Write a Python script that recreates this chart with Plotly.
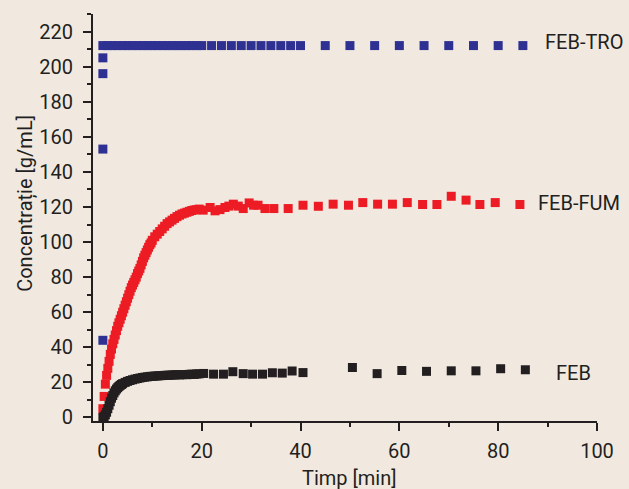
import plotly.graph_objects as go

# ---------------- data ----------------
# FEB-TRO (blue)
tro_t = [0, 0, 0, 0, 0, 1, 2, 3, 4, 5, 6, 7, 8, 9, 10, 11, 12, 13, 14, 15, 16, 17, 18, 19, 20,
         22, 24, 26, 28, 30, 32, 34, 36, 38, 40,
         45, 50, 55, 60, 65, 70, 75, 80, 85]
tro_c = [44, 153, 196, 205, 212, 212, 212, 212, 212, 212, 212, 212, 212, 212, 212, 212, 212, 212, 212, 212, 212, 212, 212, 212, 212,
         212, 212, 212, 212, 212, 212, 212, 212, 212, 212,
         212, 212, 212, 212, 212, 212, 212, 212, 212]

# FEB-FUM (red)
fum_t = [0, 0.25, 0.5, 0.75, 1.0, 1.25, 1.5, 1.75, 2.0, 2.25, 2.5, 2.75, 3.0, 3.25, 3.5, 3.75,
         4.0, 4.25, 4.5, 4.75, 5.0, 5.25, 5.5, 5.75, 6.0, 6.25, 6.5, 6.75, 7.0, 7.25, 7.5, 7.75,
         8.0, 8.25, 8.5, 8.75, 9.0, 9.25, 9.5, 9.75, 10, 10.5, 11, 11.5, 12, 12.5, 13, 13.5,
         14, 14.5, 15, 15.5, 16, 16.5, 17, 17.5, 18, 18.5, 19, 19.5, 20.3, 21.7, 22.7, 23.7,
         24.7, 25.5, 26.4, 27.4, 28.4, 29.6, 30.5, 31.4, 32.8, 34.6, 37.5, 40.5, 43.6, 46.6,
         49.7, 52.6, 55.6, 58.6, 61.6, 64.7, 67.6, 70.5, 73.5, 76.3, 79.4, 84.4]
fum_c = [5, 12, 19, 24, 28, 32, 36, 39, 42, 44.5, 47, 49.5, 52, 54, 56, 58,
         60, 62, 64, 66, 68, 70, 72, 74, 75.5, 77, 78.5, 80, 82, 83.5, 85, 87,
         89, 91, 92.5, 94, 95.5, 97, 98.5, 99.5, 101, 103, 104.5, 106, 107.5, 109, 110.5, 111.5,
         112.5, 113.5, 114.5, 115.3, 116, 116.5, 117, 117.5, 118, 118.3, 118.5, 118.8, 118.2, 119.7, 117.8, 118.5,
         119.7, 120.5, 121.6, 120.5, 119.1, 122.3, 121, 121, 119.1, 119.1, 119.1, 121, 120.4, 121.6,
         121, 122.5, 121.6, 121.6, 122.5, 121.4, 121.4, 126.1, 123.9, 121.4, 122.5, 121.4]

# FEB (black)
feb_t = [0, 0.25, 0.5, 0.75, 1.0, 1.25, 1.5, 1.75, 2.0, 2.25, 2.5, 2.75, 3.0, 3.25, 3.5, 3.75,
         4.0, 4.5, 5.0, 5.5, 6.0, 6.5, 7.0, 7.5, 8.0, 8.5, 9.0, 9.5, 10, 10.5, 11, 11.5,
         12, 12.5, 13, 13.5, 14, 14.5, 15, 15.5, 16, 16.5, 17, 17.5, 18, 18.5, 19, 19.5,
         20.4, 22.4, 24.4, 26.3, 28.4, 30.3, 32.3, 34.3, 36.3, 38.3, 40.5,
         50.5, 55.5, 60.5, 65.5, 70.5, 75.5, 80.5, 85.5]
feb_c = [0, 0.5, 1.5, 3, 5, 7, 9, 11, 12.5, 14, 15.2, 16.2, 17, 17.7, 18.3, 18.8,
         19.3, 20, 20.6, 21.1, 21.5, 21.9, 22.2, 22.5, 22.8, 23, 23.2, 23.4, 23.5, 23.6, 23.7, 23.8,
         23.9, 24, 24.1, 24.1, 24.2, 24.3, 24.4, 24.3, 24.4, 24.5, 24.4, 24.6, 24.7, 24.6, 24.8, 24.9,
         25.1, 24.7, 24.7, 26.1, 25, 24.7, 24.7, 25.5, 25.3, 26.5, 25.6,
         28.5, 25, 26.8, 26.3, 26.6, 26.6, 27.8, 27.2]

series_names = ["FEB-TRO", "FEB-FUM", "FEB"]
x_ticks = [0, 20, 40, 60, 80, 100]
y_ticks = [0, 20, 40, 60, 80, 100, 120, 140, 160, 180, 200, 220]

BG = "#F1E9E0"
INK = "#231F20"
FONT = "Roboto"

fig = go.Figure()
for t, c, col in [(tro_t, tro_c, "#2E3192"), (fum_t, fum_c, "#ED1C24"), (feb_t, feb_c, "#231F20")]:
    fig.add_trace(go.Scatter(
        x=t, y=c, mode="markers",
        marker=dict(symbol="square", size=9, color=col, line=dict(width=0)),
        showlegend=False, cliponaxis=False,
    ))

axis_common = dict(
    showgrid=False, zeroline=False, showline=True, linecolor=INK, linewidth=2,
    ticks="outside", ticklen=8, tickwidth=2, tickcolor=INK,
    tickfont=dict(family=FONT, size=20, color=INK),
)
fig.update_xaxes(
    range=[-2, 100], tickvals=x_ticks, ticktext=[str(v) for v in x_ticks],
    minor=dict(ticks="outside", ticklen=4, tickwidth=2, tickcolor=INK, dtick=10, tick0=0),
    ticklabelstandoff=3,
    **axis_common,
)
fig.update_yaxes(
    range=[-2, 230], tickvals=y_ticks, ticktext=[str(v) for v in y_ticks],
    minor=dict(ticks="outside", ticklen=4, tickwidth=2, tickcolor=INK, dtick=10, tick0=0),
    ticklabelstandoff=6,
    **axis_common,
)

ann_font = dict(family=FONT, size=20, color=INK)
# series labels
fig.add_annotation(x=89.0, y=214, xref="x", yref="y", text=series_names[0], showarrow=False,
                   xanchor="left", yanchor="middle", font=ann_font)
fig.add_annotation(x=87.6, y=122, xref="x", yref="y", text=series_names[1], showarrow=False,
                   xanchor="left", yanchor="middle", font=ann_font)
fig.add_annotation(x=91.3, y=25.3, xref="x", yref="y", text=series_names[2], showarrow=False,
                   xanchor="left", yanchor="middle", font=ann_font)
# axis titles
fig.add_annotation(x=50, y=-0.14, xref="x", yref="paper", text="Timp [min]", showarrow=False,
                   xanchor="center", yanchor="middle", font=ann_font)
fig.add_annotation(x=-0.133, y=0.536, xref="paper", yref="paper", text="Concentrație [g/mL]",
                   showarrow=False, textangle=-90, xanchor="center", yanchor="middle", font=ann_font)

fig.update_layout(
    width=629, height=489,
    margin=dict(l=93, r=32, t=14, b=68),
    paper_bgcolor=BG, plot_bgcolor=BG,
    font=dict(family=FONT, size=20, color=INK),
)

fig.write_html("out.html", config={"displayModeBar": False})
# remove the default page margin so the figure sits at the window's top-left corner
with open("out.html", "r", encoding="utf-8") as f:
    html = f.read()
html = html.replace("<head>", "<head><style>html,body{margin:0;padding:0;background:%s;}</style>" % BG, 1)
with open("out.html", "w", encoding="utf-8") as f:
    f.write(html)
